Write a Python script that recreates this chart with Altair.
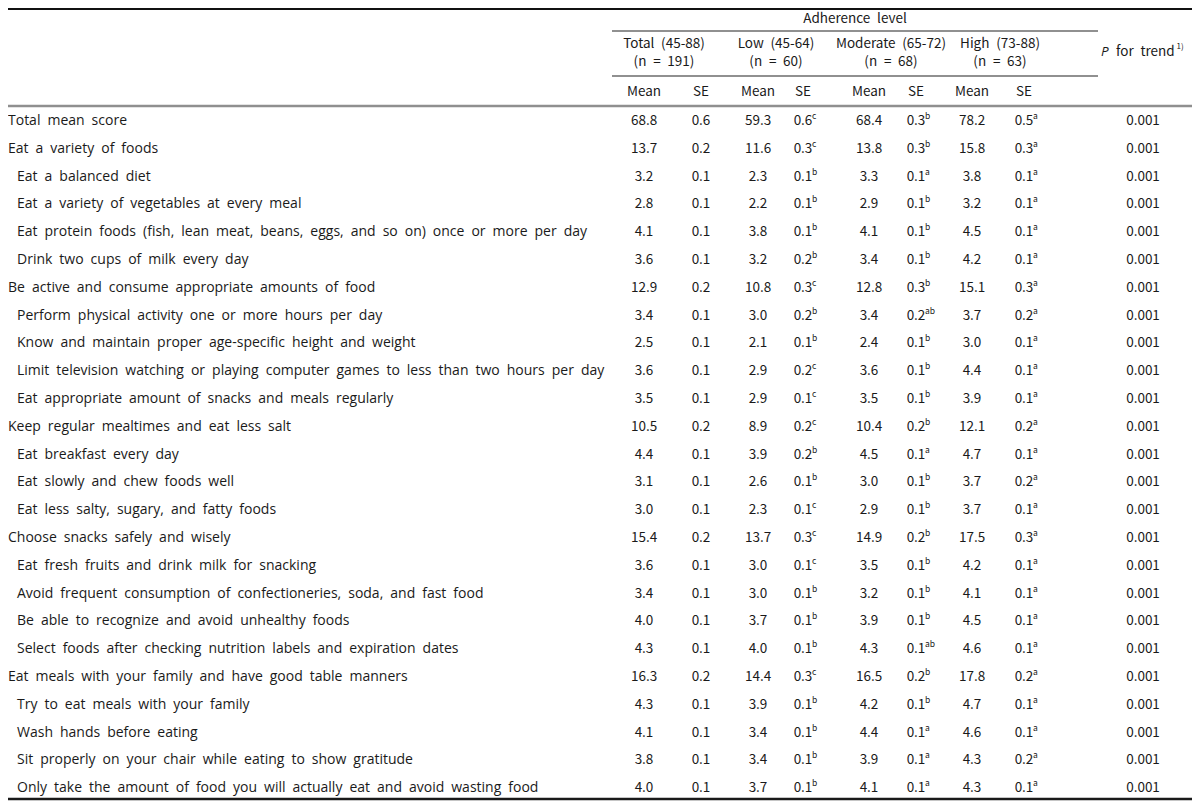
import altair as alt
import pandas as pd

# ---------------- data ----------------
labels = [
    "Total mean score",
    "Eat a variety of foods",
    "Eat a balanced diet",
    "Eat a variety of vegetables at every meal",
    "Eat protein foods (fish, lean meat, beans, eggs, and so on) once or more per day",
    "Drink two cups of milk every day",
    "Be active and consume appropriate amounts of food",
    "Perform physical activity one or more hours per day",
    "Know and maintain proper age-specific height and weight",
    "Limit television watching or playing computer games to less than two hours per day",
    "Eat appropriate amount of snacks and meals regularly",
    "Keep regular mealtimes and eat less salt",
    "Eat breakfast every day",
    "Eat slowly and chew foods well",
    "Eat less salty, sugary, and fatty foods",
    "Choose snacks safely and wisely",
    "Eat fresh fruits and drink milk for snacking",
    "Avoid frequent consumption of confectioneries, soda, and fast food",
    "Be able to recognize and avoid unhealthy foods",
    "Select foods after checking nutrition labels and expiration dates",
    "Eat meals with your family and have good table manners",
    "Try to eat meals with your family",
    "Wash hands before eating",
    "Sit properly on your chair while eating to show gratitude",
    "Only take the amount of food you will actually eat and avoid wasting food",
]
level = [0, 0, 1, 1, 1, 1, 0, 1, 1, 1, 1, 0, 1, 1, 1, 0, 1, 1, 1, 1, 0, 1, 1, 1, 1]

total_mean = [68.8, 13.7, 3.2, 2.8, 4.1, 3.6, 12.9, 3.4, 2.5, 3.6, 3.5, 10.5, 4.4, 3.1, 3.0,
              15.4, 3.6, 3.4, 4.0, 4.3, 16.3, 4.3, 4.1, 3.8, 4.0]
total_se = [0.6, 0.2, 0.1, 0.1, 0.1, 0.1, 0.2, 0.1, 0.1, 0.1, 0.1, 0.2, 0.1, 0.1, 0.1,
            0.2, 0.1, 0.1, 0.1, 0.1, 0.2, 0.1, 0.1, 0.1, 0.1]
low_mean = [59.3, 11.6, 2.3, 2.2, 3.8, 3.2, 10.8, 3.0, 2.1, 2.9, 2.9, 8.9, 3.9, 2.6, 2.3,
            13.7, 3.0, 3.0, 3.7, 4.0, 14.4, 3.9, 3.4, 3.4, 3.7]
low_se = [0.6, 0.3, 0.1, 0.1, 0.1, 0.2, 0.3, 0.2, 0.1, 0.2, 0.1, 0.2, 0.2, 0.1, 0.1,
          0.3, 0.1, 0.1, 0.1, 0.1, 0.3, 0.1, 0.1, 0.1, 0.1]
low_sup = ["c", "c", "b", "b", "b", "b", "c", "b", "b", "c", "c", "c", "b", "b", "c",
           "c", "c", "b", "b", "b", "c", "b", "b", "b", "b"]
mod_mean = [68.4, 13.8, 3.3, 2.9, 4.1, 3.4, 12.8, 3.4, 2.4, 3.6, 3.5, 10.4, 4.5, 3.0, 2.9,
            14.9, 3.5, 3.2, 3.9, 4.3, 16.5, 4.2, 4.4, 3.9, 4.1]
mod_se = [0.3, 0.3, 0.1, 0.1, 0.1, 0.1, 0.3, 0.2, 0.1, 0.1, 0.1, 0.2, 0.1, 0.1, 0.1,
          0.2, 0.1, 0.1, 0.1, 0.1, 0.2, 0.1, 0.1, 0.1, 0.1]
mod_sup = ["b", "b", "a", "b", "b", "b", "b", "ab", "b", "b", "b", "b", "a", "b", "b",
           "b", "b", "b", "b", "ab", "b", "b", "a", "a", "a"]
high_mean = [78.2, 15.8, 3.8, 3.2, 4.5, 4.2, 15.1, 3.7, 3.0, 4.4, 3.9, 12.1, 4.7, 3.7, 3.7,
             17.5, 4.2, 4.1, 4.5, 4.6, 17.8, 4.7, 4.6, 4.3, 4.3]
high_se = [0.5, 0.3, 0.1, 0.1, 0.1, 0.1, 0.3, 0.2, 0.1, 0.1, 0.1, 0.2, 0.1, 0.2, 0.1,
           0.3, 0.1, 0.1, 0.1, 0.1, 0.2, 0.1, 0.1, 0.2, 0.1]
high_sup = ["a"] * 25
p_trend = ["0.001"] * 25

group_titles = ["Total (45-88)", "Low (45-64)", "Moderate (65-72)", "High (73-88)"]
group_n = ["(n = 191)", "(n = 60)", "(n = 68)", "(n = 63)"]
sub_headers = ["Mean", "SE", "Mean", "SE", "Mean", "SE", "Mean", "SE"]
top_header = "Adherence level"
p_header = ["P", "for trend", "1)"]

# ---------------- layout ----------------
W, H = 1184, 795
COLS = ["tm", "ts", "lm", "ls", "mm", "ms", "hm", "hs", "p"]
COL_X = dict(zip(COLS, [636, 693, 750, 795, 861, 908, 964, 1016, 1135]))
GROUP_X = [656, 768, 883, 992]
LABEL_X = {0: 0, 1: 9}
ROW0, PITCH = 113, 27.8
SUP_DX = 9
FONT_NUM = "Noto Sans CJK KR"
FONT_LAB = "Open Sans"
FS_NUM = 13.5
FS_LAB = 14
INK = "#1a1a1a"
SP = "\u2002"  # wide word space, as in the original typesetting


def wide(s):
    return SP.join(s.split(" "))


XS = alt.Scale(domain=[0, W], range=[0, W])
YS = alt.Scale(domain=[0, H], range=[0, H])


def row_y(i):
    return ROW0 + PITCH * i


def enc():
    return dict(
        x=alt.X("x:Q", scale=XS, axis=None),
        y=alt.Y("y:Q", scale=YS, axis=None),
        text="text:N",
    )


# body labels
lab_df = pd.DataFrame({
    "text": [wide(s) for s in labels],
    "x": [LABEL_X[l] for l in level],
    "y": [row_y(i) for i in range(len(labels))],
})

# body numbers
cells, sups = [], []
series = [
    ("tm", total_mean, None), ("ts", total_se, None),
    ("lm", low_mean, None), ("ls", low_se, low_sup),
    ("mm", mod_mean, None), ("ms", mod_se, mod_sup),
    ("hm", high_mean, None), ("hs", high_se, high_sup),
]
for key, vals, sup in series:
    for i, v in enumerate(vals):
        cells.append({"text": f"{v:.1f}", "x": COL_X[key], "y": row_y(i)})
        if sup is not None:
            sups.append({"text": sup[i], "x": COL_X[key] + SUP_DX, "y": row_y(i)})
for i, p in enumerate(p_trend):
    cells.append({"text": p, "x": COL_X["p"], "y": row_y(i)})
cell_df = pd.DataFrame(cells)
sup_df = pd.DataFrame(sups)

# header
RULE_X0, RULE_X1 = 604, 1090
hdr = [{"text": wide(top_header), "x": (RULE_X0 + RULE_X1) / 2, "y": 10.5}]
for cx, t, n in zip(GROUP_X, group_titles, group_n):
    hdr.append({"text": wide(t), "x": cx, "y": 35.5})
    hdr.append({"text": wide(n), "x": cx, "y": 53.5})
for key, t in zip(COLS[:8], sub_headers):
    hdr.append({"text": t, "x": COL_X[key], "y": 84})
hdr_df = pd.DataFrame(hdr)

rules_df = pd.DataFrame([
    {"x": 0, "x2": W, "y": 1, "w": 2.2, "c": "#111111"},
    {"x": RULE_X0, "x2": RULE_X1, "y": 23, "w": 1.1, "c": "#222222"},
    {"x": RULE_X0, "x2": RULE_X1, "y": 68, "w": 1.1, "c": "#222222"},
    {"x": 0, "x2": W, "y": 98, "w": 2.6, "c": "#8f8f8f"},
    {"x": 0, "x2": W, "y": 791, "w": 2.6, "c": "#1a1a1a"},
])

# ---------------- chart ----------------
rules = alt.Chart(rules_df).mark_rule().encode(
    x=alt.X("x:Q", scale=XS, axis=None),
    x2="x2:Q",
    y=alt.Y("y:Q", scale=YS, axis=None),
    strokeWidth=alt.StrokeWidth("w:Q", scale=None),
    color=alt.Color("c:N", scale=None),
)

label_layer = alt.Chart(lab_df).mark_text(
    align="left", baseline="middle", font=FONT_LAB, fontSize=FS_LAB, color=INK
).encode(**enc())

num_layer = alt.Chart(cell_df).mark_text(
    align="center", baseline="middle", font=FONT_NUM, fontSize=FS_NUM, color=INK
).encode(**enc())

sup_layer = alt.Chart(sup_df).mark_text(
    align="left", baseline="middle", font=FONT_NUM, fontSize=8.5, dy=-5, color=INK
).encode(**enc())

hdr_layer = alt.Chart(hdr_df).mark_text(
    align="center", baseline="middle", font=FONT_NUM, fontSize=FS_NUM, color=INK
).encode(**enc())

P_X = 1093
p_italic = alt.Chart(pd.DataFrame([{"text": p_header[0], "x": P_X, "y": 44}])).mark_text(
    align="left", baseline="middle", font=FONT_LAB, fontSize=13.5, fontStyle="italic", color=INK
).encode(**enc())
p_rest = alt.Chart(pd.DataFrame([{"text": wide(p_header[1]), "x": P_X + 15, "y": 44}])).mark_text(
    align="left", baseline="middle", font=FONT_NUM, fontSize=FS_NUM, color=INK
).encode(**enc())
p_sup = alt.Chart(pd.DataFrame([{"text": p_header[2], "x": P_X + 75.5, "y": 44}])).mark_text(
    align="left", baseline="middle", font=FONT_NUM, fontSize=8, dy=-5, color=INK
).encode(**enc())

chart = alt.layer(
    rules, label_layer, num_layer, sup_layer, hdr_layer, p_italic, p_rest, p_sup
).properties(
    width=W, height=H, padding=0, autosize=alt.AutoSizeParams(type="none")
).configure_view(stroke=None)

chart.save("out.html", embed_options={"renderer": "svg", "actions": False})
